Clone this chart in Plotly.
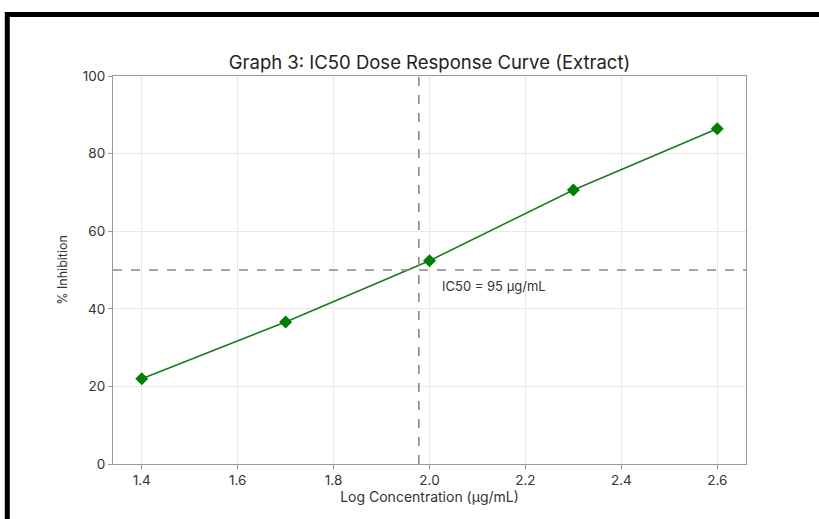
import numpy as np
import plotly.graph_objects as go

# Dose-response data (log10 concentration vs % inhibition)
log_conc = [1.4, 1.7, 2.0, 2.3, 2.6]
inhibition = [22.0, 36.6, 52.4, 70.6, 86.4]

ic50_value = 95  # µg/mL
ic50_log = float(np.log10(ic50_value))

x_ticks = [1.4, 1.6, 1.8, 2.0, 2.2, 2.4, 2.6]
y_ticks = [0, 20, 40, 60, 80, 100]

FONT = "Inter, Lato, sans-serif"
GRAY = "#888888"
TEXT = "#333333"

fig = go.Figure()

fig.add_trace(go.Scatter(
    x=log_conc, y=inhibition,
    mode="lines+markers",
    line=dict(color="#1f7a1f", width=1.6),
    marker=dict(symbol="diamond", size=10, color="#008000"),
    showlegend=False,
    cliponaxis=False,
))

# IC50 reference lines
fig.add_shape(type="line", xref="x", yref="paper", x0=ic50_log, x1=ic50_log, y0=0, y1=1,
              line=dict(color=GRAY, width=1.6, dash="dash"))
fig.add_shape(type="line", xref="paper", yref="y", x0=0, x1=1, y0=50, y1=50,
              line=dict(color=GRAY, width=1.6, dash="dash"))

fig.add_annotation(x=ic50_log + 0.045, y=45.9, xref="x", yref="y",
                   text=f"IC50 = {ic50_value} µg/mL", showarrow=False,
                   xanchor="left", yanchor="middle",
                   font=dict(family=FONT, size=13, color=TEXT))

# Black frame around the figure
fig.add_shape(type="rect", xref="paper", yref="paper",
              x0=-0.167, x1=1.6, y0=-0.4, y1=1.1585,
              line=dict(color="black", width=5), layer="above")

axis_common = dict(
    showgrid=True, gridcolor="#e8e8e8", gridwidth=1,
    showline=True, linecolor="#999999", linewidth=1.2, mirror=True,
    ticks="outside", ticklen=4, tickcolor="#999999",
    tickfont=dict(family=FONT, size=13.5, color=TEXT),
    zeroline=False,
)

fig.update_xaxes(range=[1.34, 2.66], tickvals=x_ticks,
                 ticktext=[f"{v:.1f}" for v in x_ticks],
                 title=dict(text="Log Concentration (µg/mL)", standoff=4,
                            font=dict(family=FONT, size=14, color=TEXT)),
                 **axis_common)
fig.update_yaxes(range=[0, 100], tickvals=y_ticks,
                 title=dict(text="% Inhibition", standoff=12,
                            font=dict(family=FONT, size=12.5, color=TEXT)),
                 **axis_common)

fig.update_layout(
    width=819, height=519,
    margin=dict(l=113, r=73, t=76, b=55),
    paper_bgcolor="white", plot_bgcolor="white",
    title=dict(text="Graph 3: IC50 Dose Response Curve (Extract)",
               x=(113 + 746) / 2 / 819, xanchor="center", y=1 - 63 / 519, yanchor="middle",
               font=dict(family=FONT, size=18.5, color="#222222")),
)

fig.write_html("out.html")
